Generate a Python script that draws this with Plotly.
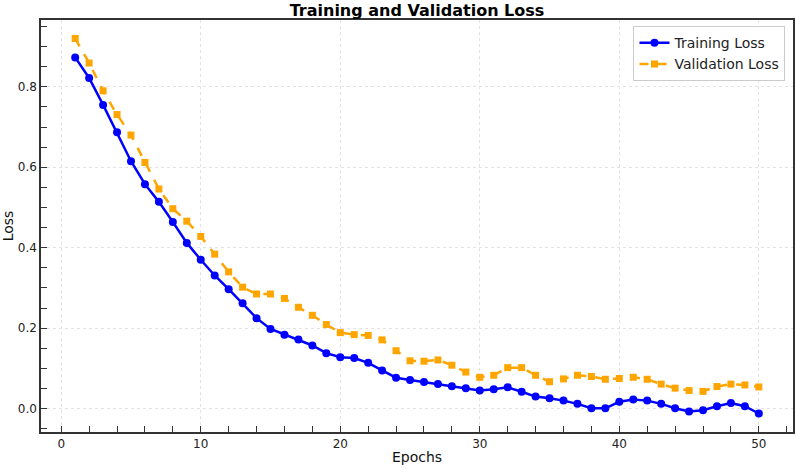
import plotly.graph_objects as go

epochs = list(range(1, 51))

training_loss = [
    0.873, 0.822, 0.755, 0.687, 0.615, 0.558, 0.514, 0.464, 0.412, 0.370,
    0.331, 0.297, 0.262, 0.225, 0.198, 0.184, 0.172, 0.157, 0.138, 0.128,
    0.126, 0.114, 0.095, 0.077, 0.071, 0.066, 0.061, 0.056, 0.051, 0.045,
    0.048, 0.053, 0.042, 0.030, 0.026, 0.020, 0.012, 0.001, 0.001, 0.017,
    0.023, 0.020, 0.012, 0.001, -0.007, -0.004, 0.006, 0.014, 0.006, -0.012,
]

validation_loss = [
    0.920, 0.859, 0.790, 0.731, 0.680, 0.612, 0.546, 0.497, 0.466, 0.428,
    0.384, 0.340, 0.302, 0.285, 0.285, 0.274, 0.252, 0.232, 0.209, 0.189,
    0.184, 0.182, 0.171, 0.144, 0.119, 0.118, 0.121, 0.108, 0.091, 0.078,
    0.083, 0.102, 0.102, 0.083, 0.067, 0.074, 0.083, 0.080, 0.073, 0.075,
    0.078, 0.073, 0.061, 0.051, 0.045, 0.043, 0.055, 0.061, 0.059, 0.054,
]

FONT = "DejaVu Sans"
SPINE = "#333333"

W, H = 796, 469
L, R, T, B = 41, 3, 20, 37

fig = go.Figure()

fig.add_trace(go.Scatter(
    x=epochs, y=training_loss,
    mode='lines+markers',
    name='Training Loss',
    line=dict(color='#0000ff', width=2.5),
    marker=dict(color='#0000ff', size=8, symbol='circle'),
))

fig.add_trace(go.Scatter(
    x=epochs, y=validation_loss,
    mode='lines+markers',
    name='Validation Loss',
    line=dict(color='#ffa500', width=2.5, dash='dash'),
    marker=dict(color='#ffa500', size=7, symbol='square'),
))

axis_common = dict(
    showline=True, linecolor=SPINE, linewidth=1.5, mirror=True,
    ticks='inside', ticklen=6, tickwidth=1.2, tickcolor=SPINE,
    showgrid=True, gridcolor='#e3e3e3', griddash='dot', gridwidth=0.8,
    zeroline=False, automargin=False,
    tickfont=dict(family=FONT, size=12, color='#222222'),
)

fig.update_layout(
    width=W, height=H,
    paper_bgcolor='white', plot_bgcolor='white',
    margin=dict(l=L, r=R, t=T, b=B),
    font=dict(family=FONT, color='#111111'),
    title=dict(
        text='<b>Training and Validation Loss</b>',
        font=dict(family=FONT, size=16, color='black'),
        x=(L + (W - R - L) / 2) / W, xanchor='center',
        y=1 - 10 / H, yanchor='middle',
    ),
    xaxis=dict(
        **axis_common,
        range=[-1.45, 52.45],
        dtick=10, tick0=0,
        minor=dict(dtick=2, tick0=0, ticks='inside', ticklen=6, tickcolor=SPINE, showgrid=False),
        title=dict(text='Epochs', font=dict(family=FONT, size=14), standoff=2),
    ),
    yaxis=dict(
        **axis_common,
        range=[-0.058, 0.966],
        dtick=0.2, tick0=0, tickformat='.1f',
        minor=dict(dtick=0.05, tick0=0, ticks='inside', ticklen=6, tickcolor=SPINE, showgrid=False),
        title=dict(text='Loss', font=dict(family=FONT, size=14), standoff=4),
    ),
    legend=dict(
        x=0.99, y=0.985, xanchor='right', yanchor='top',
        bgcolor='rgba(255,255,255,0.9)', bordercolor='#cccccc', borderwidth=1,
        font=dict(family=FONT, size=14, color='#222222'),
        itemwidth=30, tracegroupgap=0,
    ),
)

# quitar el margen de 8px del body para que el gráfico empiece en (0,0)
fig.write_html("out.html", config={'displayModeBar': False},
               post_script="document.body.style.margin='0';")
